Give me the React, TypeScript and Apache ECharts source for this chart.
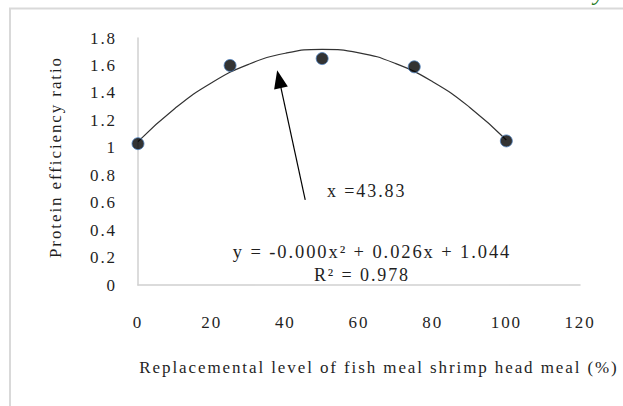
import React, { useEffect, useRef } from "react";
import * as echarts from "echarts";

// Observed points (replacement level %, protein efficiency ratio)
const levels = [0, 25, 50, 75, 100];
const perValues = [1.03, 1.6, 1.65, 1.59, 1.05];

// Polynomial trend line
const trendLevels = [0, 10, 20, 30, 40, 50, 60, 70, 80, 90, 100];
const trendValues = [1.045, 1.286, 1.474, 1.608, 1.689, 1.717, 1.692, 1.613, 1.481, 1.296, 1.057];

// Arrow annotation (tail, head) in data units
const arrowTail = [45.4, 0.62];
const arrowHead = [38.3, 1.5];

const yTitle = "Protein efficiency ratio";
const xTitle = "Replacemental level of fish meal shrimp head meal (%)";
const vertexLabel = "x =43.83";
const equationLabel = "y = -0.000x² + 0.026x + 1.044";
const r2Label = "R² = 0.978";

const FONT = "'Liberation Serif', 'Times New Roman', serif";
const TXT = "#1f1f1f";

export default function App() {
  const ref = useRef<HTMLDivElement>(null);

  useEffect(() => {
    if (!ref.current) return;
    const chart = echarts.init(ref.current, null, { renderer: "svg" });
    const textStyle = (extra: any) => ({
      fontFamily: FONT,
      fontSize: 17,
      fill: TXT,
      ...extra,
    });
    chart.setOption({
      animation: false,
      backgroundColor: "#ffffff",
      grid: { left: 138, right: 43, top: 38, bottom: 121, containLabel: false },
      xAxis: {
        type: "value",
        min: 0,
        max: 120,
        interval: 20,
        axisLine: { show: true, lineStyle: { color: "#d0d0d0", width: 1.5 } },
        axisTick: { show: false },
        splitLine: { show: false },
        axisLabel: { margin: 29, fontFamily: FONT, fontSize: 17, color: TXT },
      },
      yAxis: {
        type: "value",
        min: 0,
        max: 1.8,
        interval: 0.2,
        axisLine: { show: true, lineStyle: { color: "#d0d0d0", width: 1.5 } },
        axisTick: { show: false },
        splitLine: { show: false },
        axisLabel: {
          margin: 21,
          fontFamily: FONT,
          fontSize: 17,
          color: TXT,
          formatter: (v: number) => String(Number(v.toFixed(1))),
        },
      },
      series: [
        {
          type: "line",
          data: trendLevels.map((x, i) => [x, trendValues[i]]),
          smooth: true,
          showSymbol: false,
          silent: true,
          lineStyle: { color: "#333333", width: 1.2 },
          z: 2,
        },
        {
          type: "scatter",
          data: levels.map((x, i) => [x, perValues[i]]),
          symbol: "circle",
          symbolSize: 12,
          itemStyle: { color: "#000000", borderColor: "#4f81bd", borderWidth: 1 },
          z: 3,
          markLine: {
            silent: true,
            symbol: ["none", "triangle"],
            symbolSize: [14, 18],
            label: { show: false },
            lineStyle: { color: "#000000", width: 1.2, type: "solid" },
            emphasis: { disabled: true },
            data: [[{ coord: arrowTail }, { coord: arrowHead }]],
          },
        },
      ],
      graphic: [
        {
          type: "line",
          shape: { x1: 9, y1: 8.5, x2: 623, y2: 8.5 },
          style: { stroke: "#d9d9d9", lineWidth: 2 },
          silent: true,
        },
        {
          type: "line",
          shape: { x1: 10, y1: 8, x2: 10, y2: 406 },
          style: { stroke: "#d9d9d9", lineWidth: 2 },
          silent: true,
        },
        {
          type: "text",
          x: 600,
          y: -8,
          style: textStyle({
            text: "y",
            fontSize: 24,
            fontStyle: "italic",
            fill: "#1e7b1e",
            align: "center",
            verticalAlign: "middle",
          }),
          silent: true,
        },
        {
          type: "text",
          x: 55,
          y: 157,
          rotation: Math.PI / 2,
          style: textStyle({ text: yTitle, align: "center", verticalAlign: "middle" }),
          silent: true,
        },
        {
          type: "text",
          x: 379,
          y: 367,
          style: textStyle({ text: xTitle, align: "center", verticalAlign: "middle" }),
          silent: true,
        },
        {
          type: "text",
          x: 327,
          y: 191,
          style: textStyle({ text: vertexLabel, fontSize: 18, align: "left", verticalAlign: "middle" }),
          silent: true,
        },
        {
          type: "text",
          x: 372,
          y: 252,
          style: textStyle({ text: equationLabel, fontSize: 18.5, align: "center", verticalAlign: "middle" }),
          silent: true,
        },
        {
          type: "text",
          x: 362,
          y: 275,
          style: textStyle({ text: r2Label, fontSize: 18, align: "center", verticalAlign: "middle" }),
          silent: true,
        },
      ],
    });
    return () => chart.dispose();
  }, []);

  return (
    <>
      <style>{`#per-chart text { letter-spacing: 1.9px; }`}</style>
      <div
        id="per-chart"
        ref={ref}
        style={{ position: "absolute", left: 0, top: 0, width: 623, height: 406 }}
      />
    </>
  );
}
